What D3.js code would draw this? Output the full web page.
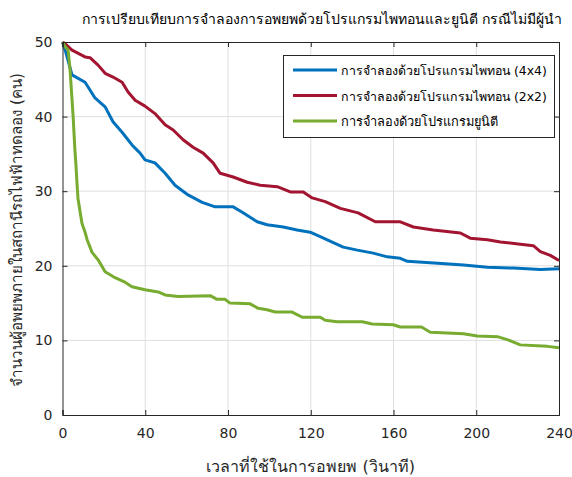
<!DOCTYPE html>
<html><head><meta charset="utf-8">
<script src="https://cdn.jsdelivr.net/npm/d3@7"></script>
<style>body{margin:0;background:#fff;} text{font-family:"DejaVu Sans","Noto Sans",sans-serif;}</style>
</head><body><svg id="c" width="572" height="477"></svg>
<script>
const title = "การเปรียบเทียบการจำลองการอพยพด้วยโปรแกรมไพทอนและยูนิตี กรณีไม่มีผู้นำ";
const xLabel = "เวลาที่ใช้ในการอพยพ (วินาที)";
const yLabel = "จำนวนผู้อพยพภายในสถานีรถไฟฟ้าทดลอง (คน)";
const seriesNames = ["การจำลองด้วยโปรแกรมไพทอน (4x4)","การจำลองด้วยโปรแกรมไพทอน (2x2)","การจำลองด้วยโปรแกรมยูนิตี"];
const seriesColors = ["#0072BD","#A2142F","#77AC30"];
const xTicks = [0,40,80,120,160,200,240];
const yTicks = [0,10,20,30,40,50];

const tBlue = [0,1.2,4.6,10.9,12.3,15.7,20.6,24.4,28.8,33.6,37.5,39.9,44.7,49.6,54.4,60.7,67.5,73.8,82.5,87.3,94.1,98.9,106.7,113.4,119.7,124.6,130.9,135.7,142.5,150.2,157,163.3,166.7,177.8,193.8,205.4,218,231,240];
const vBlue = [50,49,45.6,44.6,44,42.5,41.3,39.3,37.9,36.2,35.1,34.2,33.8,32.4,30.8,29.5,28.5,27.9,27.9,27.1,25.9,25.5,25.2,24.8,24.5,23.9,23.1,22.5,22.1,21.7,21.2,21.0,20.6,20.4,20.1,19.8,19.7,19.5,19.6];

const tRed = [0,1.2,4.6,10.9,13.3,17.2,20.6,24.4,28.8,31.7,35.1,39.9,44.7,49.6,53.5,58.3,63.1,68,72.8,76.2,82.5,89.3,95.6,103.8,110.1,116.4,120.7,127,134.3,142.9,151.2,163.3,169.6,179.2,192.3,197.1,205.4,211.7,221.3,227.6,231,235.8,240];
const vRed = [50,49.8,48.9,48,47.9,46.9,45.8,45.3,44.6,43.3,42.2,41.4,40.4,38.9,38.2,36.9,35.9,35.1,33.8,32.4,31.9,31.2,30.8,30.6,29.9,29.9,29.1,28.6,27.7,27.1,25.9,25.9,25.2,24.8,24.4,23.7,23.5,23.2,22.9,22.7,21.9,21.4,20.7];

const tGreen = [0,1,2.7,3.6,5.1,6,6.5,7,7.5,9.4,10.9,11.9,14.3,17.2,20.6,25.4,30.2,33.6,39.9,46.2,49.6,55.9,71.4,74.7,78.6,81,90.7,94.6,98.9,102.8,111,115.9,124.6,127,132.8,144.9,149.7,159.9,163.3,173.5,177.8,186,193.8,200.5,210.2,215,221.3,234.4,240];
const vGreen = [50,49.5,48.9,46.5,40.2,35.5,33.5,31.1,29,25.7,24.5,23.5,21.8,20.8,19.2,18.4,17.8,17.2,16.8,16.5,16.1,15.9,16.0,15.5,15.5,15.0,14.9,14.3,14.1,13.8,13.8,13.1,13.1,12.7,12.5,12.5,12.2,12.1,11.8,11.8,11.1,11.0,10.9,10.6,10.5,10.1,9.4,9.2,9.0];

const series = [
  {t:tBlue, v:vBlue},
  {t:tRed, v:vRed},
  {t:tGreen, v:vGreen}
];

const L=62.5, R=559, T=42, B=415;
const svg = d3.select("#c");
const x = d3.scaleLinear().domain([0,240]).range([L,R]);
const y = d3.scaleLinear().domain([0,50]).range([B,T]);
const axisColor = "#262626";

function fit(sel, size, target){
  sel.style("font-size", size+"px");
  const w = sel.node().getComputedTextLength();
  if (w > target) sel.style("font-size", (size*target/w).toFixed(2)+"px");
  return sel;
}

// grid
svg.append("g").selectAll("line").data(xTicks.slice(1,-1)).join("line")
  .attr("x1",d=>x(d)).attr("x2",d=>x(d)).attr("y1",T).attr("y2",B)
  .attr("stroke","#dfdfdf").attr("stroke-width",1);
svg.append("g").selectAll("line").data(yTicks.slice(1,-1)).join("line")
  .attr("y1",d=>y(d)).attr("y2",d=>y(d)).attr("x1",L).attr("x2",R)
  .attr("stroke","#dfdfdf").attr("stroke-width",1);

// lines
const line = d3.line().x(d=>x(d[0])).y(d=>y(d[1]));
series.forEach((s,i)=>{
  svg.append("path").datum(s.t.map((t,j)=>[t,s.v[j]]))
    .attr("d",line).attr("fill","none").attr("stroke",seriesColors[i])
    .attr("stroke-width",3).attr("stroke-linejoin","round");
});

// axes
const xAxis = d3.axisBottom(x).tickValues(xTicks).tickSize(-5).tickPadding(13).tickFormat(d3.format("d"));
const yAxis = d3.axisLeft(y).tickValues(yTicks).tickSize(-5).tickPadding(10).tickFormat(d3.format("d"));
const gx = svg.append("g").attr("transform",`translate(0,${B})`).call(xAxis);
const gy = svg.append("g").attr("transform",`translate(${L},0)`).call(yAxis);
const gx2 = svg.append("g").attr("transform",`translate(0,${T})`).call(d3.axisTop(x).tickValues(xTicks).tickSize(-5).tickFormat(""));
const gy2 = svg.append("g").attr("transform",`translate(${R},0)`).call(d3.axisRight(y).tickValues(yTicks).tickSize(-5).tickFormat(""));
[gx,gy,gx2,gy2].forEach(g=>{
  g.selectAll("path").attr("stroke",axisColor).attr("stroke-width",1);
  g.selectAll("line").attr("stroke",axisColor);
  g.selectAll("text").attr("fill","#262626").style("font-size","14px").style("font-family","DejaVu Sans");
});

// title & labels
fit(svg.append("text").attr("x",322).attr("y",24).attr("text-anchor","middle")
  .attr("fill","#000").text(title), 16, 485);
fit(svg.append("text").attr("x",(L+R)/2).attr("y",472).attr("text-anchor","middle")
  .attr("fill","#262626").text(xLabel), 16, 216);
fit(svg.append("text").attr("transform",`translate(22,230) rotate(-90)`).attr("text-anchor","middle")
  .attr("fill","#262626").text(yLabel), 16, 316);

// legend
const lg = svg.append("g");
lg.append("rect").attr("x",283.5).attr("y",55.5).attr("width",271).attr("height",82)
  .attr("fill","#fff").attr("stroke",axisColor).attr("stroke-width",1);
const legendWidths = [206, 206, 160];
seriesNames.forEach((n,i)=>{
  const yy = 70 + i*25.5;
  lg.append("line").attr("x1",293).attr("x2",337).attr("y1",yy).attr("y2",yy)
    .attr("stroke",seriesColors[i]).attr("stroke-width",3);
  const t = lg.append("text").attr("x",341).attr("y",yy+5).attr("fill","#000").text(n);
  fit(t, 14, legendWidths[i]);
});
</script></body></html>
